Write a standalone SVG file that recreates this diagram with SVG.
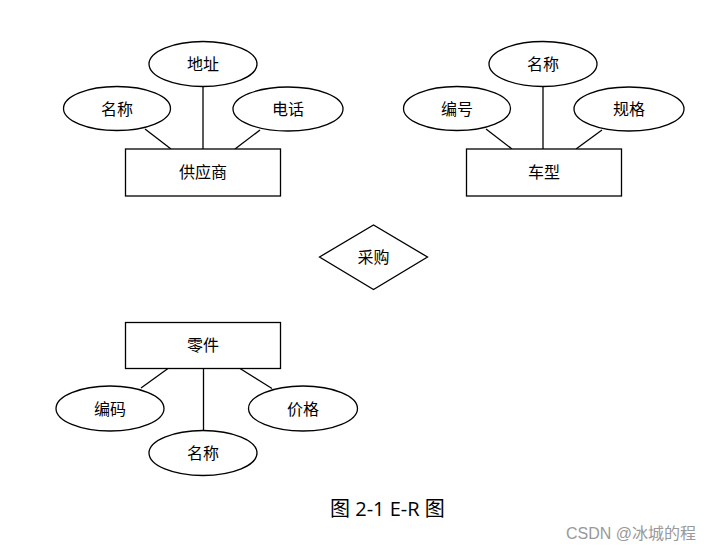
<svg xmlns="http://www.w3.org/2000/svg" width="720" height="558" viewBox="0 0 720 558">
<style>
.s{fill:#fff;stroke:#000;stroke-width:1.3}
.l{stroke:#000;stroke-width:1.3;fill:none}
text{font-family:"Noto Sans CJK SC","Liberation Sans",sans-serif;font-size:16px;fill:#000;text-anchor:middle;dominant-baseline:central}
.cap{font-family:"Open Sans","Noto Sans CJK SC",sans-serif;font-size:20px;text-anchor:start}
.wm{font-family:"Liberation Sans","Noto Sans CJK SC",sans-serif;font-size:16px;fill:#999;text-anchor:start}
</style>
<rect width="720" height="558" fill="#fff"/>
<g id="connectors">
<line class="l" x1="145" y1="129" x2="171" y2="149"/>
<line class="l" x1="203" y1="86.5" x2="203" y2="149"/>
<line class="l" x1="260" y1="130" x2="235" y2="149"/>
<line class="l" x1="486" y1="129" x2="512" y2="149"/>
<line class="l" x1="543" y1="86.5" x2="543" y2="149"/>
<line class="l" x1="602" y1="130" x2="576" y2="149"/>
<line class="l" x1="168" y1="368.5" x2="141" y2="388"/>
<line class="l" x1="203.5" y1="368.5" x2="203.5" y2="430.5"/>
<line class="l" x1="240" y1="368.5" x2="272" y2="388.5"/>
</g>
<g id="supplier"><rect class="s" x="125.5" y="149" width="155" height="47"/><text x="203" y="171">供应商</text></g>
<g id="supplier-address"><ellipse class="s" cx="203" cy="64" rx="54" ry="22.5"/><text x="203" y="63">地址</text></g>
<g id="supplier-name"><ellipse class="s" cx="117" cy="108.5" rx="53.5" ry="22"/><text x="117" y="107.5">名称</text></g>
<g id="supplier-phone"><ellipse class="s" cx="288" cy="109" rx="55" ry="22"/><text x="288" y="108">电话</text></g>
<g id="model"><rect class="s" x="466.5" y="149" width="155" height="47"/><text x="544" y="171">车型</text></g>
<g id="model-name"><ellipse class="s" cx="543" cy="64" rx="54" ry="22.5"/><text x="543" y="63">名称</text></g>
<g id="model-code"><ellipse class="s" cx="457" cy="108.5" rx="53.5" ry="22"/><text x="457" y="107.5">编号</text></g>
<g id="model-spec"><ellipse class="s" cx="629" cy="109" rx="55" ry="22"/><text x="629" y="108">规格</text></g>
<g id="purchase"><polygon class="s" points="319.5,257 373.5,225 427.5,257 373.5,289.5"/><text x="373.5" y="256">采购</text></g>
<g id="part"><rect class="s" x="125.5" y="322.5" width="155" height="46"/><text x="203" y="344">零件</text></g>
<g id="part-code"><ellipse class="s" cx="110" cy="408.5" rx="54" ry="22.5"/><text x="110" y="407.5">编码</text></g>
<g id="part-price"><ellipse class="s" cx="303" cy="408.5" rx="54.5" ry="22.5"/><text x="303" y="407.5">价格</text></g>
<g id="part-name"><ellipse class="s" cx="203" cy="453" rx="54" ry="22.5"/><text x="203" y="452">名称</text></g>
<text class="cap" x="330" y="508">图 2-1 E-R 图</text>
<text class="wm" x="566" y="533">CSDN @冰城的程</text>
</svg>
